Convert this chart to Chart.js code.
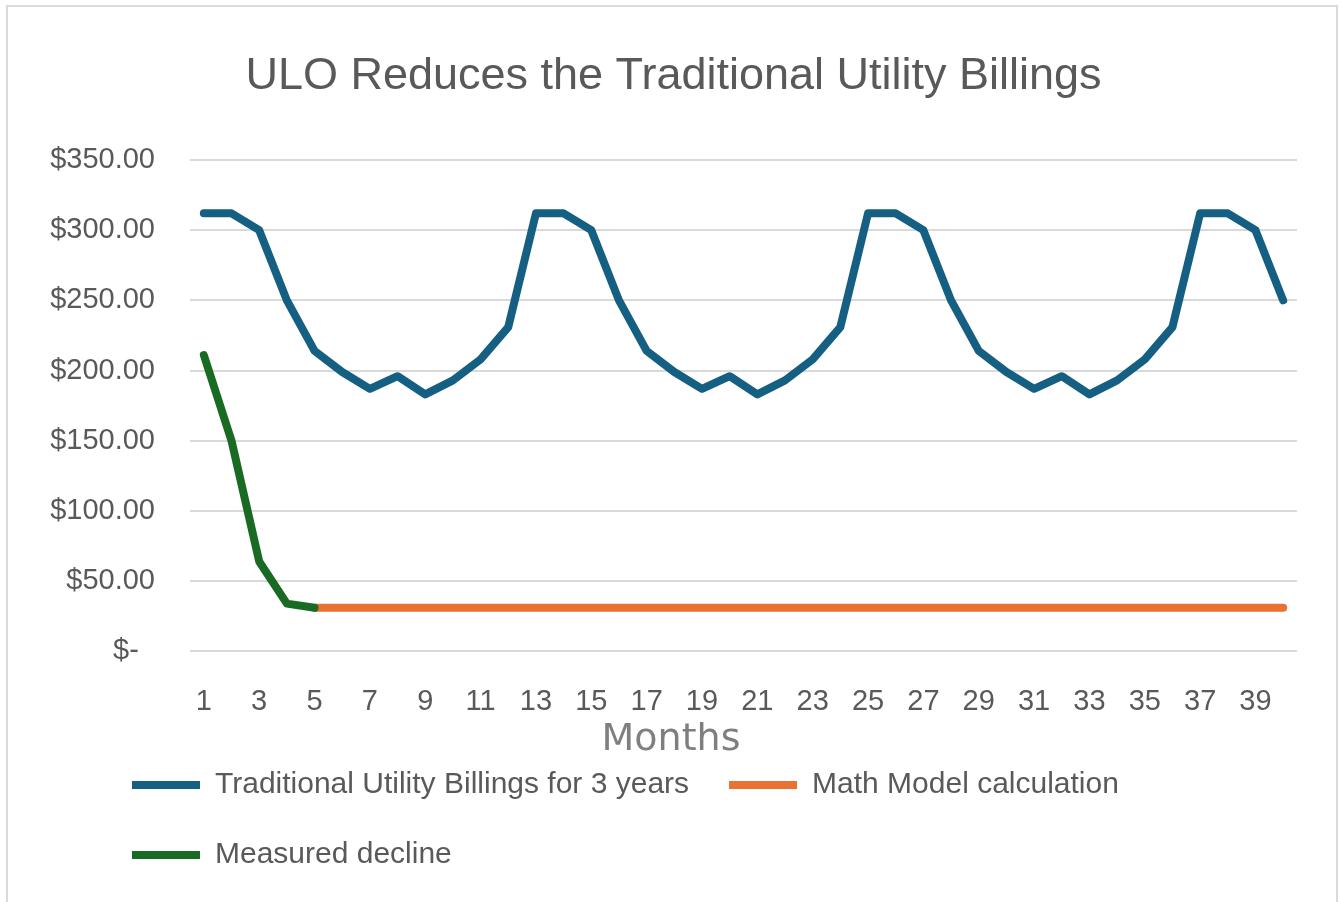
<!DOCTYPE html>
<html>
<head>
<meta charset="utf-8">
<script src="https://cdn.jsdelivr.net/npm/chart.js@4.4.1/dist/chart.umd.min.js"></script>
<style>
    html, body { margin: 0; padding: 0; background: #ffffff; }
    #wrap { position: relative; width: 1340px; height: 902px; overflow: hidden; }
    #frame { position: absolute; left: 6px; top: 5px; width: 1328px; height: 910px; border: 2px solid #d9d9d9; pointer-events: none; }
</style>
</head>
<body>
<div id="wrap">
    <canvas id="billingChart" width="1340" height="902"></canvas>
    <div id="frame"></div>
</div>
<script>
// Data
const months = ["1","2","3","4","5","6","7","8","9","10","11","12","13","14","15","16","17","18","19","20",
    "21","22","23","24","25","26","27","28","29","30","31","32","33","34","35","36","37","38","39","40"];
const traditionalBillings = [312, 312, 300, 250, 214, 199, 187, 196, 183, 193, 208, 231,
    312, 312, 300, 250, 214, 199, 187, 196, 183, 193, 208, 231,
    312, 312, 300, 250, 214, 199, 187, 196, 183, 193, 208, 231,
    312, 312, 300, 250];
const mathModel = [null, null, null, null, 31, 31, 31, 31, 31, 31, 31, 31, 31, 31, 31, 31, 31, 31, 31, 31,
    31, 31, 31, 31, 31, 31, 31, 31, 31, 31, 31, 31, 31, 31, 31, 31, 31, 31, 31, 31];
const measuredDecline = [211, 150, 64, 34, 31];
const yTicks = [0, 50, 100, 150, 200, 250, 300, 350];

const grey = "#595959";
const sans = "'Liberation Sans', Arial, sans-serif";

function lineSet(label, data, color, order) {
    return {
        label: label,
        data: data,
        borderColor: color,
        backgroundColor: color,
        borderWidth: 8,
        borderCapStyle: "round",
        borderJoinStyle: "round",
        pointRadius: 0,
        pointHoverRadius: 0,
        tension: 0,
        order: order
    };
}

// legend sits further right than the plot's left padding
const legendShift = {
    id: "legendShift",
    afterLayout(chart) {
        chart.legend.left += 42;
    }
};

const ctx = document.getElementById("billingChart").getContext("2d");
const chart = new Chart(ctx, {
    type: "line",
    data: {
        labels: months,
        datasets: [
            lineSet("Traditional Utility Billings for 3 years", traditionalBillings, "#156082", 3),
            lineSet("Math Model calculation", mathModel, "#E97132", 2),
            lineSet("Measured decline", measuredDecline, "#196B24", 1)
        ]
    },
    plugins: [legendShift],
    options: {
        responsive: false,
        animation: false,
        layout: { padding: { top: 14, left: 50, right: 43, bottom: 22 } },
        plugins: {
            title: {
                display: true,
                text: "ULO Reduces the Traditional Utility Billings",
                color: grey,
                font: { family: sans, size: 45, weight: "normal" },
                padding: { top: 36, bottom: 56 }
            },
            legend: {
                position: "bottom",
                align: "start",
                labels: {
                    color: grey,
                    font: { family: sans, size: 30 },
                    usePointStyle: true,
                    pointStyle: "line",
                    pointStyleWidth: 68,
                    padding: 40,
                    sort: (a, b) => a.datasetIndex - b.datasetIndex
                }
            },
            tooltip: { enabled: false }
        },
        scales: {
            x: {
                offset: true,
                grid: { display: false, drawTicks: false },
                border: { display: false },
                ticks: {
                    color: grey,
                    font: { family: sans, size: 29 },
                    padding: 33,
                    autoSkip: false,
                    maxRotation: 0,
                    minRotation: 0,
                    callback: (value, index) => index % 2 === 0 ? months[index] : ""
                },
                title: {
                    display: true,
                    text: "Months            ",
                    color: "#7f7f7f",
                    font: { family: "'DejaVu Sans', sans-serif", size: 38, lineHeight: 0.26 },
                    padding: { top: -17, bottom: -15 }
                }
            },
            y: {
                min: 0,
                max: 350,
                afterBuildTicks: (scale) => { scale.ticks = yTicks.map(v => ({ value: v })); },
                afterFit: (scale) => { scale.width = 140; },
                grid: { color: "#d9d9d9", lineWidth: 2, drawTicks: false },
                border: { display: false },
                ticks: {
                    color: grey,
                    font: { family: sans, size: 29 },
                    padding: 35,
                    callback: (value) => value === 0 ? "$-  " : "$" + value.toFixed(2)
                }
            }
        }
    }
});
</script>
</body>
</html>
